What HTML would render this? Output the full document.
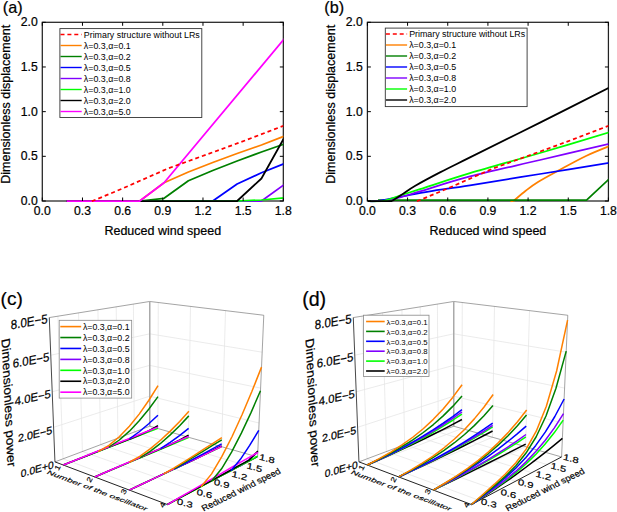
<!DOCTYPE html>
<html><head><meta charset="utf-8"><style>
html,body{margin:0;padding:0;background:#fff;}
svg{display:block;}
text{font-family:"Liberation Sans",sans-serif;fill:#000;stroke:#000;stroke-width:0.22px;}
text.lg{stroke:none;}
</style></head><body>
<svg width="617" height="512" viewBox="0 0 617 512">
<rect width="617" height="512" fill="#fff"/>
<rect x="42.3" y="22.3" width="241.02" height="178.7" fill="none" stroke="#222" stroke-width="1.25"/>
<clipPath id="clipa"><rect x="42.3" y="22.3" width="241.02" height="179.9"/></clipPath>
<g clip-path="url(#clipa)">
<polyline points="66.65,201 139.7,201 164.05,182.7 188.4,172 212.75,162.5 237.1,153.5 261.45,145 290,134" fill="none" stroke="#FF8000" stroke-width="1.75" stroke-linejoin="round"/>
<polyline points="66.65,201 139.7,201 164.05,198.3 188.4,180.8 212.75,170.5 237.1,161 261.45,152 290,142" fill="none" stroke="#008000" stroke-width="1.75" stroke-linejoin="round"/>
<polyline points="66.65,201 212.75,201 237.1,184 261.45,172.8 290,161.4" fill="none" stroke="#0000FF" stroke-width="1.75" stroke-linejoin="round"/>
<polyline points="66.65,201 261.45,201 290,180.4" fill="none" stroke="#8000FF" stroke-width="1.75" stroke-linejoin="round"/>
<polyline points="66.65,201 237.1,201 261.45,200 290,197.2" fill="none" stroke="#00FF00" stroke-width="1.75" stroke-linejoin="round"/>
<polyline points="66.65,201 237.1,201 261.45,178.5 290,127.4" fill="none" stroke="#000000" stroke-width="1.75" stroke-linejoin="round"/>
<polyline points="66.65,201 139.7,201 164.05,182.7 290,32" fill="none" stroke="#FF00FF" stroke-width="1.75" stroke-linejoin="round"/>
<polyline points="91.8,201.3 122.3,188.6 167.5,168.7 240,142.4 290,123.3" fill="none" stroke="#FF0000" stroke-width="1.75" stroke-linejoin="round" stroke-dasharray="4,3"/>
</g>
<line x1="42.3" y1="201" x2="42.3" y2="197.5" stroke="#000" stroke-width="1"/>
<line x1="42.3" y1="22.3" x2="42.3" y2="25.8" stroke="#000" stroke-width="1"/>
<text x="42.3" y="214.8" font-size="12.2" text-anchor="middle" >0.0</text>
<line x1="82.47" y1="201" x2="82.47" y2="197.5" stroke="#000" stroke-width="1"/>
<line x1="82.47" y1="22.3" x2="82.47" y2="25.8" stroke="#000" stroke-width="1"/>
<text x="82.47" y="214.8" font-size="12.2" text-anchor="middle" >0.3</text>
<line x1="122.64" y1="201" x2="122.64" y2="197.5" stroke="#000" stroke-width="1"/>
<line x1="122.64" y1="22.3" x2="122.64" y2="25.8" stroke="#000" stroke-width="1"/>
<text x="122.64" y="214.8" font-size="12.2" text-anchor="middle" >0.6</text>
<line x1="162.81" y1="201" x2="162.81" y2="197.5" stroke="#000" stroke-width="1"/>
<line x1="162.81" y1="22.3" x2="162.81" y2="25.8" stroke="#000" stroke-width="1"/>
<text x="162.81" y="214.8" font-size="12.2" text-anchor="middle" >0.9</text>
<line x1="202.98" y1="201" x2="202.98" y2="197.5" stroke="#000" stroke-width="1"/>
<line x1="202.98" y1="22.3" x2="202.98" y2="25.8" stroke="#000" stroke-width="1"/>
<text x="202.98" y="214.8" font-size="12.2" text-anchor="middle" >1.2</text>
<line x1="243.15" y1="201" x2="243.15" y2="197.5" stroke="#000" stroke-width="1"/>
<line x1="243.15" y1="22.3" x2="243.15" y2="25.8" stroke="#000" stroke-width="1"/>
<text x="243.15" y="214.8" font-size="12.2" text-anchor="middle" >1.5</text>
<line x1="283.32" y1="201" x2="283.32" y2="197.5" stroke="#000" stroke-width="1"/>
<line x1="283.32" y1="22.3" x2="283.32" y2="25.8" stroke="#000" stroke-width="1"/>
<text x="283.32" y="214.8" font-size="12.2" text-anchor="middle" >1.8</text>
<line x1="42.3" y1="201" x2="45.8" y2="201" stroke="#000" stroke-width="1"/>
<line x1="283.32" y1="201" x2="279.82" y2="201" stroke="#000" stroke-width="1"/>
<text x="37.7" y="205.1" font-size="12.2" text-anchor="end" >0.0</text>
<line x1="42.3" y1="156.32" x2="45.8" y2="156.32" stroke="#000" stroke-width="1"/>
<line x1="283.32" y1="156.32" x2="279.82" y2="156.32" stroke="#000" stroke-width="1"/>
<text x="37.7" y="160.42" font-size="12.2" text-anchor="end" >0.5</text>
<line x1="42.3" y1="111.65" x2="45.8" y2="111.65" stroke="#000" stroke-width="1"/>
<line x1="283.32" y1="111.65" x2="279.82" y2="111.65" stroke="#000" stroke-width="1"/>
<text x="37.7" y="115.75" font-size="12.2" text-anchor="end" >1.0</text>
<line x1="42.3" y1="66.98" x2="45.8" y2="66.98" stroke="#000" stroke-width="1"/>
<line x1="283.32" y1="66.98" x2="279.82" y2="66.98" stroke="#000" stroke-width="1"/>
<text x="37.7" y="71.08" font-size="12.2" text-anchor="end" >1.5</text>
<line x1="42.3" y1="22.3" x2="45.8" y2="22.3" stroke="#000" stroke-width="1"/>
<line x1="283.32" y1="22.3" x2="279.82" y2="22.3" stroke="#000" stroke-width="1"/>
<text x="37.7" y="26.4" font-size="12.2" text-anchor="end" >2.0</text>
<text x="162.81" y="234.8" font-size="12.5" text-anchor="middle" >Reduced wind speed</text>
<text transform="translate(10,104.3) rotate(-90)" x="0" y="0" font-size="12.55" text-anchor="middle">Dimensionless displacement</text>
<text x="2.8" y="12.7" font-size="16.2" text-anchor="start" >(a)</text>
<rect x="59.9" y="28.6" width="141.9" height="88.9" fill="#fff" stroke="#333" stroke-width="0.9"/>
<line x1="60.5" y1="34.5" x2="81.7" y2="34.5" stroke="#FF0000" stroke-width="1.4" stroke-dasharray="4,2.9"/>
<text x="83.8" y="37.8" font-size="8.85" text-anchor="start" class="lg">Primary structure without LRs</text>
<line x1="60.5" y1="45.5" x2="81.7" y2="45.5" stroke="#FF8000" stroke-width="1.4"/>
<text x="83.8" y="48.8" font-size="8.85" text-anchor="start" class="lg">λ=0.3,α=0.1</text>
<line x1="60.5" y1="56.5" x2="81.7" y2="56.5" stroke="#008000" stroke-width="1.4"/>
<text x="83.8" y="59.8" font-size="8.85" text-anchor="start" class="lg">λ=0.3,α=0.2</text>
<line x1="60.5" y1="67.5" x2="81.7" y2="67.5" stroke="#0000FF" stroke-width="1.4"/>
<text x="83.8" y="70.8" font-size="8.85" text-anchor="start" class="lg">λ=0.3,α=0.5</text>
<line x1="60.5" y1="78.5" x2="81.7" y2="78.5" stroke="#8000FF" stroke-width="1.4"/>
<text x="83.8" y="81.8" font-size="8.85" text-anchor="start" class="lg">λ=0.3,α=0.8</text>
<line x1="60.5" y1="89.5" x2="81.7" y2="89.5" stroke="#00FF00" stroke-width="1.4"/>
<text x="83.8" y="92.8" font-size="8.85" text-anchor="start" class="lg">λ=0.3,α=1.0</text>
<line x1="60.5" y1="100.5" x2="81.7" y2="100.5" stroke="#000000" stroke-width="1.4"/>
<text x="83.8" y="103.8" font-size="8.85" text-anchor="start" class="lg">λ=0.3,α=2.0</text>
<line x1="60.5" y1="111.5" x2="81.7" y2="111.5" stroke="#FF00FF" stroke-width="1.4"/>
<text x="83.8" y="114.8" font-size="8.85" text-anchor="start" class="lg">λ=0.3,α=5.0</text>
<rect x="367.4" y="22.3" width="241.02" height="178.7" fill="none" stroke="#222" stroke-width="1.25"/>
<clipPath id="clipb"><rect x="367.4" y="22.3" width="241.02" height="179.9"/></clipPath>
<g clip-path="url(#clipb)">
<polyline points="510.5,201.3 513.5,201" fill="none" stroke="#FF8000" stroke-width="1.75" stroke-linejoin="round"/>
<path d="M513.5,201 C515.58,199.25 521.92,193.67 526,190.5 C530.08,187.33 532.67,185.28 538,182 C543.33,178.72 549.92,175.18 558,170.8 C566.08,166.42 577,160.2 586.5,155.7 C596,151.2 610.25,145.78 615,143.8" fill="none" stroke="#FF8000" stroke-width="1.75" stroke-linejoin="round"/>
<polyline points="378,200.2 586.55,200.2 615,173.5" fill="none" stroke="#008000" stroke-width="1.75" stroke-linejoin="round"/>
<path d="M370,201.5 C371.33,201.42 372.33,201.92 378,201 C383.67,200.08 395.33,197.62 404,196 C412.67,194.38 419,193.07 430,191.3 C441,189.53 451.67,188.28 470,185.4 C488.33,182.52 515.83,177.9 540,174 C564.17,170.1 602.5,164 615,162" fill="none" stroke="#0000FF" stroke-width="1.75" stroke-linejoin="round"/>
<path d="M370,201.5 C372,201.42 377,201.67 382,201 C387,200.33 393.67,199.1 400,197.5 C406.33,195.9 408.33,194.92 420,191.4 C431.67,187.88 450,181.63 470,176.4 C490,171.17 515.83,165.65 540,160 C564.17,154.35 602.5,145.42 615,142.5" fill="none" stroke="#8000FF" stroke-width="1.75" stroke-linejoin="round"/>
<path d="M370,201.5 C372.17,201.42 378,202 383,201 C388,200 393.83,197.47 400,195.5 C406.17,193.53 408.33,192.92 420,189.2 C431.67,185.48 450,179.23 470,173.2 C490,167.17 515.83,160.1 540,153 C564.17,145.9 602.5,134.33 615,130.6" fill="none" stroke="#00FF00" stroke-width="1.75" stroke-linejoin="round"/>
<polyline points="368,201 392,201" fill="none" stroke="#000000" stroke-width="1.75" stroke-linejoin="round"/>
<path d="M392,201 C393.67,199.92 398.12,197.03 402,194.5 C405.88,191.97 408.97,189.48 415.3,185.8 C421.63,182.12 430.88,177.13 440,172.4 C449.12,167.67 453.33,165.7 470,157.4 C486.67,149.1 515.83,134.7 540,122.6 C564.17,110.5 602.5,91.1 615,84.8" fill="none" stroke="#000000" stroke-width="1.75" stroke-linejoin="round"/>
<polyline points="416.9,201.3 447.4,188.6 492.6,168.7 565.1,142.4 615.1,123.3" fill="none" stroke="#FF0000" stroke-width="1.75" stroke-linejoin="round" stroke-dasharray="4,3"/>
</g>
<line x1="367.4" y1="201" x2="367.4" y2="197.5" stroke="#000" stroke-width="1"/>
<line x1="367.4" y1="22.3" x2="367.4" y2="25.8" stroke="#000" stroke-width="1"/>
<text x="367.4" y="214.8" font-size="12.2" text-anchor="middle" >0.0</text>
<line x1="407.57" y1="201" x2="407.57" y2="197.5" stroke="#000" stroke-width="1"/>
<line x1="407.57" y1="22.3" x2="407.57" y2="25.8" stroke="#000" stroke-width="1"/>
<text x="407.57" y="214.8" font-size="12.2" text-anchor="middle" >0.3</text>
<line x1="447.74" y1="201" x2="447.74" y2="197.5" stroke="#000" stroke-width="1"/>
<line x1="447.74" y1="22.3" x2="447.74" y2="25.8" stroke="#000" stroke-width="1"/>
<text x="447.74" y="214.8" font-size="12.2" text-anchor="middle" >0.6</text>
<line x1="487.91" y1="201" x2="487.91" y2="197.5" stroke="#000" stroke-width="1"/>
<line x1="487.91" y1="22.3" x2="487.91" y2="25.8" stroke="#000" stroke-width="1"/>
<text x="487.91" y="214.8" font-size="12.2" text-anchor="middle" >0.9</text>
<line x1="528.08" y1="201" x2="528.08" y2="197.5" stroke="#000" stroke-width="1"/>
<line x1="528.08" y1="22.3" x2="528.08" y2="25.8" stroke="#000" stroke-width="1"/>
<text x="528.08" y="214.8" font-size="12.2" text-anchor="middle" >1.2</text>
<line x1="568.25" y1="201" x2="568.25" y2="197.5" stroke="#000" stroke-width="1"/>
<line x1="568.25" y1="22.3" x2="568.25" y2="25.8" stroke="#000" stroke-width="1"/>
<text x="568.25" y="214.8" font-size="12.2" text-anchor="middle" >1.5</text>
<line x1="608.42" y1="201" x2="608.42" y2="197.5" stroke="#000" stroke-width="1"/>
<line x1="608.42" y1="22.3" x2="608.42" y2="25.8" stroke="#000" stroke-width="1"/>
<text x="608.42" y="214.8" font-size="12.2" text-anchor="middle" >1.8</text>
<line x1="367.4" y1="201" x2="370.9" y2="201" stroke="#000" stroke-width="1"/>
<line x1="608.42" y1="201" x2="604.92" y2="201" stroke="#000" stroke-width="1"/>
<text x="362.8" y="205.1" font-size="12.2" text-anchor="end" >0.0</text>
<line x1="367.4" y1="156.32" x2="370.9" y2="156.32" stroke="#000" stroke-width="1"/>
<line x1="608.42" y1="156.32" x2="604.92" y2="156.32" stroke="#000" stroke-width="1"/>
<text x="362.8" y="160.42" font-size="12.2" text-anchor="end" >0.5</text>
<line x1="367.4" y1="111.65" x2="370.9" y2="111.65" stroke="#000" stroke-width="1"/>
<line x1="608.42" y1="111.65" x2="604.92" y2="111.65" stroke="#000" stroke-width="1"/>
<text x="362.8" y="115.75" font-size="12.2" text-anchor="end" >1.0</text>
<line x1="367.4" y1="66.98" x2="370.9" y2="66.98" stroke="#000" stroke-width="1"/>
<line x1="608.42" y1="66.98" x2="604.92" y2="66.98" stroke="#000" stroke-width="1"/>
<text x="362.8" y="71.08" font-size="12.2" text-anchor="end" >1.5</text>
<line x1="367.4" y1="22.3" x2="370.9" y2="22.3" stroke="#000" stroke-width="1"/>
<line x1="608.42" y1="22.3" x2="604.92" y2="22.3" stroke="#000" stroke-width="1"/>
<text x="362.8" y="26.4" font-size="12.2" text-anchor="end" >2.0</text>
<text x="487.91" y="234.8" font-size="12.5" text-anchor="middle" >Reduced wind speed</text>
<text transform="translate(334.7,104.3) rotate(-90)" x="0" y="0" font-size="12.55" text-anchor="middle">Dimensionless displacement</text>
<text x="324.3" y="12.7" font-size="16.2" text-anchor="start" >(b)</text>
<rect x="385.3" y="28.1" width="141.8" height="78.5" fill="#fff" stroke="#333" stroke-width="0.9"/>
<line x1="385.9" y1="34" x2="407.1" y2="34" stroke="#FF0000" stroke-width="1.4" stroke-dasharray="4,2.9"/>
<text x="409.2" y="37.3" font-size="8.85" text-anchor="start" class="lg">Primary structure without LRs</text>
<line x1="385.9" y1="45" x2="407.1" y2="45" stroke="#FF8000" stroke-width="1.4"/>
<text x="409.2" y="48.3" font-size="8.85" text-anchor="start" class="lg">λ=0.3,α=0.1</text>
<line x1="385.9" y1="56" x2="407.1" y2="56" stroke="#008000" stroke-width="1.4"/>
<text x="409.2" y="59.3" font-size="8.85" text-anchor="start" class="lg">λ=0.3,α=0.2</text>
<line x1="385.9" y1="67" x2="407.1" y2="67" stroke="#0000FF" stroke-width="1.4"/>
<text x="409.2" y="70.3" font-size="8.85" text-anchor="start" class="lg">λ=0.3,α=0.5</text>
<line x1="385.9" y1="78" x2="407.1" y2="78" stroke="#8000FF" stroke-width="1.4"/>
<text x="409.2" y="81.3" font-size="8.85" text-anchor="start" class="lg">λ=0.3,α=0.8</text>
<line x1="385.9" y1="89" x2="407.1" y2="89" stroke="#00FF00" stroke-width="1.4"/>
<text x="409.2" y="92.3" font-size="8.85" text-anchor="start" class="lg">λ=0.3,α=1.0</text>
<line x1="385.9" y1="100" x2="407.1" y2="100" stroke="#000000" stroke-width="1.4"/>
<text x="409.2" y="103.3" font-size="8.85" text-anchor="start" class="lg">λ=0.3,α=2.0</text>
<line x1="63.03" y1="458.82" x2="57.91" y2="316.19" stroke="#e6e6e6" stroke-width="0.75"/>
<line x1="63.03" y1="458.82" x2="175.24" y2="500.39" stroke="#e6e6e6" stroke-width="0.8"/>
<line x1="82.39" y1="451.54" x2="78.53" y2="312.89" stroke="#e6e6e6" stroke-width="0.75"/>
<line x1="82.39" y1="451.54" x2="193.94" y2="490.52" stroke="#e6e6e6" stroke-width="0.8"/>
<line x1="100.67" y1="444.67" x2="97.92" y2="309.78" stroke="#e6e6e6" stroke-width="0.75"/>
<line x1="100.67" y1="444.67" x2="211.41" y2="481.31" stroke="#e6e6e6" stroke-width="0.8"/>
<line x1="117.93" y1="438.18" x2="116.19" y2="306.85" stroke="#e6e6e6" stroke-width="0.75"/>
<line x1="117.93" y1="438.18" x2="227.78" y2="472.67" stroke="#e6e6e6" stroke-width="0.8"/>
<line x1="134.27" y1="432.04" x2="133.42" y2="304.09" stroke="#e6e6e6" stroke-width="0.75"/>
<line x1="134.27" y1="432.04" x2="243.14" y2="464.57" stroke="#e6e6e6" stroke-width="0.8"/>
<line x1="157.91" y1="428.53" x2="158.28" y2="302.51" stroke="#e6e6e6" stroke-width="0.8"/>
<line x1="63.26" y1="465.01" x2="157.91" y2="428.53" stroke="#e6e6e6" stroke-width="0.8"/>
<line x1="188.49" y1="437.25" x2="190.49" y2="306.4" stroke="#e6e6e6" stroke-width="0.8"/>
<line x1="94.72" y1="476.95" x2="188.49" y2="437.25" stroke="#e6e6e6" stroke-width="0.8"/>
<line x1="221.6" y1="446.69" x2="225.53" y2="310.63" stroke="#e6e6e6" stroke-width="0.8"/>
<line x1="129.27" y1="490.06" x2="221.6" y2="446.69" stroke="#e6e6e6" stroke-width="0.8"/>
<line x1="53.6" y1="427.32" x2="149.75" y2="396.16" stroke="#e6e6e6" stroke-width="0.8"/>
<line x1="149.75" y1="396.16" x2="259.07" y2="423" stroke="#e6e6e6" stroke-width="0.8"/>
<line x1="52.2" y1="391.79" x2="149.74" y2="365.38" stroke="#e6e6e6" stroke-width="0.8"/>
<line x1="149.74" y1="365.38" x2="260.6" y2="388.1" stroke="#e6e6e6" stroke-width="0.8"/>
<line x1="50.77" y1="355.22" x2="149.73" y2="333.83" stroke="#e6e6e6" stroke-width="0.8"/>
<line x1="149.73" y1="333.83" x2="262.17" y2="352.19" stroke="#e6e6e6" stroke-width="0.8"/>
<line x1="49.29" y1="317.57" x2="149.72" y2="301.48" stroke="#666" stroke-width="0.6"/>
<line x1="149.72" y1="301.48" x2="263.79" y2="315.25" stroke="#666" stroke-width="0.6"/>
<line x1="263.79" y1="315.25" x2="257.59" y2="456.95" stroke="#666" stroke-width="0.6"/>
<line x1="149.76" y1="426.21" x2="149.72" y2="301.48" stroke="#aaa" stroke-width="1.5"/>
<line x1="54.95" y1="461.86" x2="149.76" y2="426.21" stroke="#666" stroke-width="0.6"/>
<line x1="149.76" y1="426.21" x2="257.59" y2="456.95" stroke="#666" stroke-width="0.6"/>
<line x1="54.95" y1="461.86" x2="49.29" y2="317.57" stroke="#333" stroke-width="0.9"/>
<line x1="54.95" y1="461.86" x2="167.39" y2="504.53" stroke="#222" stroke-width="1.0"/>
<line x1="167.39" y1="504.53" x2="257.59" y2="456.95" stroke="#222" stroke-width="1.0"/>
<polyline points="129.5,439.48 139.28,435.32 148.74,430.83 157.92,426.31" fill="none" stroke="#8000FF" stroke-width="1.5" stroke-linejoin="round"/>
<polyline points="160.48,449.11 170.13,444.77 179.47,440.28 188.51,435.82" fill="none" stroke="#8000FF" stroke-width="1.5" stroke-linejoin="round"/>
<polyline points="184.34,464.2 194.16,459.51 203.64,454.92 212.78,450.47 221.62,446.18" fill="none" stroke="#8000FF" stroke-width="1.5" stroke-linejoin="round"/>
<polyline points="240.15,466.15 249.1,459.56 257.81,451.99" fill="none" stroke="#8000FF" stroke-width="1.5" stroke-linejoin="round"/>
<polyline points="63.26,465.01 75.3,460.34 86.91,455.84 98.12,451.49 108.94,447.29 119.39,443.24 129.5,439.32 139.28,435.52 148.74,431.85 157.91,428.3" fill="none" stroke="#00FF00" stroke-width="1.5" stroke-linejoin="round"/>
<polyline points="94.72,476.95 106.72,471.9 118.27,467.04 129.4,462.36 140.13,457.85 150.48,453.49 160.48,449.28 170.13,445.22 179.46,441.3 188.48,437.5" fill="none" stroke="#00FF00" stroke-width="1.5" stroke-linejoin="round"/>
<polyline points="129.27,490.06 141.16,484.48 152.59,479.11 163.58,473.95 174.15,468.98 184.34,464.2 194.16,459.58 203.63,455.13 212.78,450.84 221.6,446.69" fill="none" stroke="#00FF00" stroke-width="1.5" stroke-linejoin="round"/>
<polyline points="167.39,504.53 179.09,498.27 190.31,492.26 201.08,486.49 211.42,480.95 221.37,475.62 230.95,470.5 240.17,465.56 249.05,460.8 257.62,456.21" fill="none" stroke="#00FF00" stroke-width="1.5" stroke-linejoin="round"/>
<polyline points="63.26,465.01 75.3,460.28 86.91,455.72 98.11,451.32 108.93,447.07 119.39,442.96 129.5,438.99 139.28,435.15 148.74,430.87 157.92,425.71" fill="none" stroke="#000000" stroke-width="1.5" stroke-linejoin="round"/>
<polyline points="94.72,476.95 106.72,471.81 118.27,466.85 129.4,462.08 140.13,457.48 150.48,453.04 160.48,448.75 170.13,444.61 179.47,440.21 188.52,435.2" fill="none" stroke="#000000" stroke-width="1.5" stroke-linejoin="round"/>
<polyline points="129.27,490.06 141.16,484.46 152.59,479.07 163.58,473.88 174.15,468.9 184.34,464.09 194.16,459.46 203.64,454.85 212.79,450.34 221.62,445.98" fill="none" stroke="#000000" stroke-width="1.5" stroke-linejoin="round"/>
<polyline points="167.39,504.53 179.09,498.17 190.31,492.07 201.08,486.21 211.43,480.59 221.39,475.18 230.97,469.97 240.19,464.95 249.08,460.12 257.85,450.98" fill="none" stroke="#000000" stroke-width="1.5" stroke-linejoin="round"/>
<polyline points="63.26,465.01 75.3,460.19 86.9,455.54 98.11,451.05 108.93,446.72 119.38,442.53 129.49,438.48 139.28,434.56 148.74,430.77 157.91,427.1" fill="none" stroke="#FF00FF" stroke-width="1.5" stroke-linejoin="round"/>
<polyline points="94.72,476.95 106.72,471.78 118.27,466.8 129.4,462 140.13,457.37 150.48,452.9 160.48,448.59 170.14,444.43 179.47,440.4 188.5,436.51" fill="none" stroke="#FF00FF" stroke-width="1.5" stroke-linejoin="round"/>
<polyline points="129.27,490.06 141.16,484.45 152.59,479.06 163.58,473.88 174.15,468.89 184.34,464.08 194.16,459.45 203.64,454.98 212.78,450.67 221.61,446.5" fill="none" stroke="#FF00FF" stroke-width="1.5" stroke-linejoin="round"/>
<polyline points="167.39,504.53 179.09,497.77 190.32,491.29 201.11,485.06 211.47,479.07 221.44,473.32 231.04,467.77 240.28,462.43 249.2,457.29 257.79,452.32" fill="none" stroke="#FF00FF" stroke-width="1.5" stroke-linejoin="round"/>
<polyline points="129.5,438.75 139.26,431.74 148.74,423.79 157.95,415.27" fill="none" stroke="#0000FF" stroke-width="1.5" stroke-linejoin="round"/>
<polyline points="160.48,448.62 170.15,442.36 179.53,435.54 188.62,428.4" fill="none" stroke="#0000FF" stroke-width="1.5" stroke-linejoin="round"/>
<polyline points="174.15,468.98 184.35,463.93 194.18,458.71 203.67,453.63 212.83,448.7 221.68,443.92" fill="none" stroke="#0000FF" stroke-width="1.5" stroke-linejoin="round"/>
<polyline points="230.94,470.85 240.4,459.31 249.67,445.45 258.75,430.48" fill="none" stroke="#0000FF" stroke-width="1.5" stroke-linejoin="round"/>
<polyline points="108.93,447 119.35,440 129.43,431.15 139.21,420.84 148.73,409.27 158,396.59" fill="none" stroke="#008000" stroke-width="1.5" stroke-linejoin="round"/>
<polyline points="140.13,457.58 150.48,451.14 160.5,443.45 170.21,434.9 179.64,425.67 188.81,415.88" fill="none" stroke="#008000" stroke-width="1.5" stroke-linejoin="round"/>
<polyline points="174.16,468.55 184.37,462.53 194.21,456.62 203.73,450.85 212.92,445.23 221.8,439.78" fill="none" stroke="#008000" stroke-width="1.5" stroke-linejoin="round"/>
<polyline points="211.41,481.3 221.57,468.77 231.56,452.07 241.36,433.13 251,412.59 260.48,390.78" fill="none" stroke="#008000" stroke-width="1.5" stroke-linejoin="round"/>
<polyline points="98.12,451.58 108.91,445.42 119.31,436.79 129.39,426.27 139.18,414.11 148.72,400.49 158.03,385.53" fill="none" stroke="#FF8000" stroke-width="1.5" stroke-linejoin="round"/>
<polyline points="129.4,462.27 140.12,456.14 150.48,448.62 160.51,440.21 170.24,431.12 179.69,421.46 188.88,411.32" fill="none" stroke="#FF8000" stroke-width="1.5" stroke-linejoin="round"/>
<polyline points="163.58,473.95 174.16,467.91 184.38,461.55 194.24,455.3 203.76,449.21 212.97,443.28 221.87,437.51" fill="none" stroke="#FF8000" stroke-width="1.5" stroke-linejoin="round"/>
<polyline points="201.07,486.76 211.6,473.86 221.93,456.42 232.07,436.48 242.04,414.73 251.85,391.53 261.52,367.11" fill="none" stroke="#FF8000" stroke-width="1.5" stroke-linejoin="round"/>
<rect x="59.2" y="320.3" width="72.5" height="77.8" fill="#fff" stroke="#888" stroke-width="0.8"/>
<line x1="60.3" y1="326.6" x2="81.2" y2="326.6" stroke="#FF8000" stroke-width="1.6"/>
<text x="82.9" y="329.8" font-size="8.8" text-anchor="start" class="lg">λ=0.3,α=0.1</text>
<line x1="60.3" y1="337.53" x2="81.2" y2="337.53" stroke="#008000" stroke-width="1.6"/>
<text x="82.9" y="340.73" font-size="8.8" text-anchor="start" class="lg">λ=0.3,α=0.2</text>
<line x1="60.3" y1="348.46" x2="81.2" y2="348.46" stroke="#0000FF" stroke-width="1.6"/>
<text x="82.9" y="351.66" font-size="8.8" text-anchor="start" class="lg">λ=0.3,α=0.5</text>
<line x1="60.3" y1="359.39" x2="81.2" y2="359.39" stroke="#8000FF" stroke-width="1.6"/>
<text x="82.9" y="362.59" font-size="8.8" text-anchor="start" class="lg">λ=0.3,α=0.8</text>
<line x1="60.3" y1="370.32" x2="81.2" y2="370.32" stroke="#00FF00" stroke-width="1.6"/>
<text x="82.9" y="373.52" font-size="8.8" text-anchor="start" class="lg">λ=0.3,α=1.0</text>
<line x1="60.3" y1="381.25" x2="81.2" y2="381.25" stroke="#000000" stroke-width="1.6"/>
<text x="82.9" y="384.45" font-size="8.8" text-anchor="start" class="lg">λ=0.3,α=2.0</text>
<line x1="60.3" y1="392.18" x2="81.2" y2="392.18" stroke="#FF00FF" stroke-width="1.6"/>
<text x="82.9" y="395.38" font-size="8.8" text-anchor="start" class="lg">λ=0.3,α=5.0</text>
<line x1="367.03" y1="458.82" x2="361.91" y2="316.19" stroke="#e6e6e6" stroke-width="0.75"/>
<line x1="367.03" y1="458.82" x2="479.24" y2="500.39" stroke="#e6e6e6" stroke-width="0.8"/>
<line x1="386.39" y1="451.54" x2="382.53" y2="312.89" stroke="#e6e6e6" stroke-width="0.75"/>
<line x1="386.39" y1="451.54" x2="497.94" y2="490.52" stroke="#e6e6e6" stroke-width="0.8"/>
<line x1="404.67" y1="444.67" x2="401.92" y2="309.78" stroke="#e6e6e6" stroke-width="0.75"/>
<line x1="404.67" y1="444.67" x2="515.41" y2="481.31" stroke="#e6e6e6" stroke-width="0.8"/>
<line x1="421.93" y1="438.18" x2="420.19" y2="306.85" stroke="#e6e6e6" stroke-width="0.75"/>
<line x1="421.93" y1="438.18" x2="531.78" y2="472.67" stroke="#e6e6e6" stroke-width="0.8"/>
<line x1="438.27" y1="432.04" x2="437.42" y2="304.09" stroke="#e6e6e6" stroke-width="0.75"/>
<line x1="438.27" y1="432.04" x2="547.14" y2="464.57" stroke="#e6e6e6" stroke-width="0.8"/>
<line x1="461.91" y1="428.53" x2="462.28" y2="302.51" stroke="#e6e6e6" stroke-width="0.8"/>
<line x1="367.26" y1="465.01" x2="461.91" y2="428.53" stroke="#e6e6e6" stroke-width="0.8"/>
<line x1="492.49" y1="437.25" x2="494.49" y2="306.4" stroke="#e6e6e6" stroke-width="0.8"/>
<line x1="398.72" y1="476.95" x2="492.49" y2="437.25" stroke="#e6e6e6" stroke-width="0.8"/>
<line x1="525.6" y1="446.69" x2="529.53" y2="310.63" stroke="#e6e6e6" stroke-width="0.8"/>
<line x1="433.27" y1="490.06" x2="525.6" y2="446.69" stroke="#e6e6e6" stroke-width="0.8"/>
<line x1="357.6" y1="427.32" x2="453.75" y2="396.16" stroke="#e6e6e6" stroke-width="0.8"/>
<line x1="453.75" y1="396.16" x2="563.07" y2="423" stroke="#e6e6e6" stroke-width="0.8"/>
<line x1="356.2" y1="391.79" x2="453.74" y2="365.38" stroke="#e6e6e6" stroke-width="0.8"/>
<line x1="453.74" y1="365.38" x2="564.6" y2="388.1" stroke="#e6e6e6" stroke-width="0.8"/>
<line x1="354.77" y1="355.22" x2="453.73" y2="333.83" stroke="#e6e6e6" stroke-width="0.8"/>
<line x1="453.73" y1="333.83" x2="566.17" y2="352.19" stroke="#e6e6e6" stroke-width="0.8"/>
<line x1="353.29" y1="317.57" x2="453.72" y2="301.48" stroke="#666" stroke-width="0.6"/>
<line x1="453.72" y1="301.48" x2="567.79" y2="315.25" stroke="#666" stroke-width="0.6"/>
<line x1="567.79" y1="315.25" x2="561.59" y2="456.95" stroke="#666" stroke-width="0.6"/>
<line x1="453.76" y1="426.21" x2="453.72" y2="301.48" stroke="#aaa" stroke-width="1.5"/>
<line x1="358.95" y1="461.86" x2="453.76" y2="426.21" stroke="#666" stroke-width="0.6"/>
<line x1="453.76" y1="426.21" x2="561.59" y2="456.95" stroke="#666" stroke-width="0.6"/>
<line x1="358.95" y1="461.86" x2="353.29" y2="317.57" stroke="#333" stroke-width="0.9"/>
<line x1="358.95" y1="461.86" x2="471.39" y2="504.53" stroke="#222" stroke-width="1.0"/>
<line x1="471.39" y1="504.53" x2="561.59" y2="456.95" stroke="#222" stroke-width="1.0"/>
<polyline points="367.26,465.01 379.28,459.75 390.88,454.54 402.07,449.39 412.89,444.29 423.34,439.25 433.46,434.25 443.25,429.3 452.74,424.38 461.94,419.51" fill="none" stroke="#000000" stroke-width="1.5" stroke-linejoin="round"/>
<polyline points="398.72,476.95 410.71,471.44 422.26,466.04 433.39,460.75 444.12,455.57 454.48,450.48 464.49,445.49 474.17,440.59 483.52,435.77 492.58,431.02" fill="none" stroke="#000000" stroke-width="1.5" stroke-linejoin="round"/>
<polyline points="433.27,490.06 445.16,484.3 456.59,478.73 467.58,473.33 478.16,468.11 488.36,463.04 498.19,458.12 507.67,453.34 516.83,448.69 525.68,444.18" fill="none" stroke="#000000" stroke-width="1.5" stroke-linejoin="round"/>
<polyline points="471.39,504.53 483.1,497.05 494.35,489.61 505.17,482.21 515.58,474.84 525.61,467.5 535.29,460.18 544.63,452.88 553.67,445.6 562.4,438.33" fill="none" stroke="#000000" stroke-width="1.5" stroke-linejoin="round"/>
<polyline points="367.26,465.01 379.28,459.66 390.87,454.29 402.06,448.85 412.87,443.33 423.32,437.72 433.44,432.01 443.24,426.18 452.74,420.24 461.95,414.18" fill="none" stroke="#00FF00" stroke-width="1.5" stroke-linejoin="round"/>
<polyline points="398.72,476.95 410.71,471.36 422.26,465.81 433.38,460.29 444.12,454.77 454.48,449.25 464.5,443.7 474.19,438.14 483.56,432.53 492.65,426.9" fill="none" stroke="#00FF00" stroke-width="1.5" stroke-linejoin="round"/>
<polyline points="433.27,490.06 445.16,483.99 456.59,478.01 467.59,472.09 478.18,466.2 488.4,460.35 498.25,454.51 507.77,448.67 516.98,442.83 525.88,436.99" fill="none" stroke="#00FF00" stroke-width="1.5" stroke-linejoin="round"/>
<polyline points="471.39,504.53 483.11,496.7 494.36,488.97 505.19,481.1 515.63,472.89 525.71,464.14 535.47,454.66 544.95,444.28 554.18,432.82 563.2,420.11" fill="none" stroke="#00FF00" stroke-width="1.5" stroke-linejoin="round"/>
<polyline points="367.26,465.01 379.28,459.55 390.86,454.04 402.05,448.43 412.86,442.71 423.31,436.86 433.43,430.87 443.23,424.74 452.73,418.45 461.96,412" fill="none" stroke="#8000FF" stroke-width="1.5" stroke-linejoin="round"/>
<polyline points="398.72,476.95 410.71,471.28 422.25,465.64 433.38,460 444.12,454.35 454.48,448.65 464.5,442.92 474.19,437.14 483.58,431.3 492.67,425.39" fill="none" stroke="#8000FF" stroke-width="1.5" stroke-linejoin="round"/>
<polyline points="433.27,490.06 445.16,483.87 456.59,477.73 467.59,471.62 478.19,465.5 488.41,459.37 498.28,453.22 507.81,447.03 517.03,440.8 525.96,434.51" fill="none" stroke="#8000FF" stroke-width="1.5" stroke-linejoin="round"/>
<polyline points="471.39,504.53 483.11,496.42 494.37,488.37 505.21,480.12 515.66,471.44 525.77,462.08 535.56,451.83 545.09,440.49 554.38,427.83 563.48,413.67" fill="none" stroke="#8000FF" stroke-width="1.5" stroke-linejoin="round"/>
<polyline points="367.26,465.01 379.27,459.44 390.86,453.78 402.04,448 412.85,442.06 423.3,435.96 433.42,429.67 443.22,423.21 452.73,416.54 461.96,409.69" fill="none" stroke="#0000FF" stroke-width="1.5" stroke-linejoin="round"/>
<polyline points="398.72,476.95 410.71,471.17 422.25,465.4 433.38,459.59 444.11,453.72 454.48,447.79 464.51,441.78 474.21,435.68 483.6,429.49 492.7,423.19" fill="none" stroke="#0000FF" stroke-width="1.5" stroke-linejoin="round"/>
<polyline points="433.27,490.06 445.16,483.45 456.59,476.78 467.6,470.01 478.21,463.11 488.45,456.05 498.35,448.83 507.93,441.43 517.21,433.85 526.2,426.09" fill="none" stroke="#0000FF" stroke-width="1.5" stroke-linejoin="round"/>
<polyline points="471.39,504.53 483.12,495.77 494.39,487.02 505.26,477.92 515.74,468.16 525.9,457.42 535.78,445.42 545.41,431.88 554.84,416.51 564.12,399.02" fill="none" stroke="#0000FF" stroke-width="1.5" stroke-linejoin="round"/>
<polyline points="367.26,465.01 379.26,459.08 390.84,453.02 402.01,446.65 412.81,439.85 423.26,432.51 433.38,424.54 443.19,415.86 452.72,406.4 462,396.1" fill="none" stroke="#008000" stroke-width="1.5" stroke-linejoin="round"/>
<polyline points="398.72,476.95 410.7,470.61 422.23,464.16 433.36,457.45 444.1,450.33 454.48,442.71 464.54,434.5 474.28,425.63 483.76,416.01 492.97,405.6" fill="none" stroke="#008000" stroke-width="1.5" stroke-linejoin="round"/>
<polyline points="433.27,490.06 445.16,483.21 456.59,476.28 467.6,469.11 478.23,461.56 488.49,453.54 498.42,444.94 508.05,435.7 517.41,425.75 526.52,415.03" fill="none" stroke="#008000" stroke-width="1.5" stroke-linejoin="round"/>
<polyline points="471.39,504.53 483.13,495.11 494.41,485.87 505.29,476.33 515.81,465.73 526.03,453.06 536.05,437.01 545.99,416.02 555.98,388.18 566.22,351.17" fill="none" stroke="#008000" stroke-width="1.5" stroke-linejoin="round"/>
<polyline points="367.26,465.01 379.25,458.64 390.81,452.03 401.98,444.95 412.77,437.24 423.21,428.74 433.33,419.35 443.16,408.94 452.72,397.43 462.04,384.72" fill="none" stroke="#FF8000" stroke-width="1.5" stroke-linejoin="round"/>
<polyline points="398.72,476.95 410.69,470.17 422.22,463.19 433.34,455.78 444.09,447.78 454.48,439.03 464.56,429.44 474.34,418.88 483.86,407.27 493.14,394.53" fill="none" stroke="#FF8000" stroke-width="1.5" stroke-linejoin="round"/>
<polyline points="433.27,490.06 445.16,483.01 456.59,475.84 467.61,468.35 478.24,460.39 488.51,451.86 498.46,442.63 508.12,432.63 517.51,421.78 526.66,409.99" fill="none" stroke="#FF8000" stroke-width="1.5" stroke-linejoin="round"/>
<polyline points="471.39,504.53 483.14,494.22 494.44,484.18 505.34,473.97 515.88,462.75 526.15,449.15 536.25,431.19 546.35,406.24 556.68,370.77 567.58,320.04" fill="none" stroke="#FF8000" stroke-width="1.5" stroke-linejoin="round"/>
<rect x="363.4" y="315.2" width="65.6" height="61.2" fill="#fff" stroke="#888" stroke-width="0.8"/>
<line x1="366.1" y1="321.5" x2="384.7" y2="321.5" stroke="#FF8000" stroke-width="1.6"/>
<text x="386.5" y="324.7" font-size="7.75" text-anchor="start" class="lg">λ=0.3,α=0.1</text>
<line x1="366.1" y1="331.4" x2="384.7" y2="331.4" stroke="#008000" stroke-width="1.6"/>
<text x="386.5" y="334.6" font-size="7.75" text-anchor="start" class="lg">λ=0.3,α=0.2</text>
<line x1="366.1" y1="341.3" x2="384.7" y2="341.3" stroke="#0000FF" stroke-width="1.6"/>
<text x="386.5" y="344.5" font-size="7.75" text-anchor="start" class="lg">λ=0.3,α=0.5</text>
<line x1="366.1" y1="351.2" x2="384.7" y2="351.2" stroke="#8000FF" stroke-width="1.6"/>
<text x="386.5" y="354.4" font-size="7.75" text-anchor="start" class="lg">λ=0.3,α=0.8</text>
<line x1="366.1" y1="361.1" x2="384.7" y2="361.1" stroke="#00FF00" stroke-width="1.6"/>
<text x="386.5" y="364.3" font-size="7.75" text-anchor="start" class="lg">λ=0.3,α=1.0</text>
<line x1="366.1" y1="371" x2="384.7" y2="371" stroke="#000000" stroke-width="1.6"/>
<text x="386.5" y="374.2" font-size="7.75" text-anchor="start" class="lg">λ=0.3,α=2.0</text>
<text transform="matrix(0.8868,-0.1532,-0.0000,1.0000,47.70,323.10)" font-size="13.0" text-anchor="end">8.0E−5</text>
<text transform="matrix(0.9196,-0.1738,-0.0000,1.0000,49.40,361.00)" font-size="12.5" text-anchor="end">6.0E−5</text>
<text transform="matrix(0.9712,-0.2100,-0.0000,1.0000,50.80,397.70)" font-size="11.6" text-anchor="end">4.0E−5</text>
<text transform="matrix(0.9871,-0.2425,-0.0000,1.0000,52.30,433.80)" font-size="10.9" text-anchor="end">2.0E−5</text>
<text transform="matrix(0.9891,-0.2836,-0.0000,1.0000,53.70,468.00)" font-size="10.4" text-anchor="end">0.0E+0</text>
<text transform="matrix(0.0517,1.0958,-0.9744,0.2250,1.60,339.60)" font-size="12.3">Dimensionless power</text>
<text transform="matrix(0.4695,-0.8829,0.7064,0.3756,57.50,467.50)" font-size="9" text-anchor="middle" dy="3.2">1</text>
<text transform="matrix(0.4695,-0.8829,0.7064,0.3756,89.50,479.70)" font-size="9" text-anchor="middle" dy="3.2">2</text>
<text transform="matrix(0.4695,-0.8829,0.7064,0.3756,123.60,491.50)" font-size="9" text-anchor="middle" dy="3.2">3</text>
<text transform="matrix(0.4695,-0.8829,0.7064,0.3756,162.50,504.80)" font-size="9" text-anchor="middle" dy="3.2">4</text>
<text transform="matrix(0.9460,0.3537,-0.4585,0.4748,97.50,490.50)" font-size="10" text-anchor="middle" dy="3.6">Number of the oscillator</text>
<text transform="matrix(1.0625,0.2847,-0.1389,0.7878,184.80,503.50)" font-size="10.5" text-anchor="middle" dy="3.4">0.3</text>
<text transform="matrix(1.0625,0.2847,-0.1389,0.7878,204.50,494.00)" font-size="10.5" text-anchor="middle" dy="3.4">0.6</text>
<text transform="matrix(1.0625,0.2847,-0.1389,0.7878,221.60,483.80)" font-size="10.5" text-anchor="middle" dy="3.4">0.9</text>
<text transform="matrix(1.0625,0.2847,-0.1389,0.7878,239.40,475.90)" font-size="10.5" text-anchor="middle" dy="3.4">1.2</text>
<text transform="matrix(1.0625,0.2847,-0.1389,0.7878,254.50,467.60)" font-size="10.5" text-anchor="middle" dy="3.4">1.5</text>
<text transform="matrix(1.0625,0.2847,-0.1389,0.7878,267.00,459.00)" font-size="10.5" text-anchor="middle" dy="3.4">1.8</text>
<text transform="matrix(0.8502,-0.4239,0.4769,0.7632,241.00,489.50)" font-size="9.8" text-anchor="middle" dy="3.5">Reduced wind speed</text>
<text transform="matrix(0.8868,-0.1532,-0.0000,1.0000,351.70,323.10)" font-size="13.0" text-anchor="end">8.0E−5</text>
<text transform="matrix(0.9196,-0.1738,-0.0000,1.0000,353.40,361.00)" font-size="12.5" text-anchor="end">6.0E−5</text>
<text transform="matrix(0.9712,-0.2100,-0.0000,1.0000,354.80,397.70)" font-size="11.6" text-anchor="end">4.0E−5</text>
<text transform="matrix(0.9871,-0.2425,-0.0000,1.0000,356.30,433.80)" font-size="10.9" text-anchor="end">2.0E−5</text>
<text transform="matrix(0.9891,-0.2836,-0.0000,1.0000,357.70,468.00)" font-size="10.4" text-anchor="end">0.0E+0</text>
<text transform="matrix(0.0517,1.0958,-0.9744,0.2250,305.60,339.60)" font-size="12.3">Dimensionless power</text>
<text transform="matrix(0.4695,-0.8829,0.7064,0.3756,361.50,467.50)" font-size="9" text-anchor="middle" dy="3.2">1</text>
<text transform="matrix(0.4695,-0.8829,0.7064,0.3756,393.50,479.70)" font-size="9" text-anchor="middle" dy="3.2">2</text>
<text transform="matrix(0.4695,-0.8829,0.7064,0.3756,427.60,491.50)" font-size="9" text-anchor="middle" dy="3.2">3</text>
<text transform="matrix(0.4695,-0.8829,0.7064,0.3756,466.50,504.80)" font-size="9" text-anchor="middle" dy="3.2">4</text>
<text transform="matrix(0.9460,0.3537,-0.4585,0.4748,401.50,490.50)" font-size="10" text-anchor="middle" dy="3.6">Number of the oscillator</text>
<text transform="matrix(1.0625,0.2847,-0.1389,0.7878,488.80,503.50)" font-size="10.5" text-anchor="middle" dy="3.4">0.3</text>
<text transform="matrix(1.0625,0.2847,-0.1389,0.7878,508.50,494.00)" font-size="10.5" text-anchor="middle" dy="3.4">0.6</text>
<text transform="matrix(1.0625,0.2847,-0.1389,0.7878,525.60,483.80)" font-size="10.5" text-anchor="middle" dy="3.4">0.9</text>
<text transform="matrix(1.0625,0.2847,-0.1389,0.7878,543.40,475.90)" font-size="10.5" text-anchor="middle" dy="3.4">1.2</text>
<text transform="matrix(1.0625,0.2847,-0.1389,0.7878,558.50,467.60)" font-size="10.5" text-anchor="middle" dy="3.4">1.5</text>
<text transform="matrix(1.0625,0.2847,-0.1389,0.7878,571.00,459.00)" font-size="10.5" text-anchor="middle" dy="3.4">1.8</text>
<text transform="matrix(0.8502,-0.4239,0.4769,0.7632,545.00,489.50)" font-size="9.8" text-anchor="middle" dy="3.5">Reduced wind speed</text>
<text x="0.6" y="305.3" font-size="19">(c)</text>
<text x="302.2" y="305.8" font-size="19.6">(d)</text>
</svg>
</body></html>
